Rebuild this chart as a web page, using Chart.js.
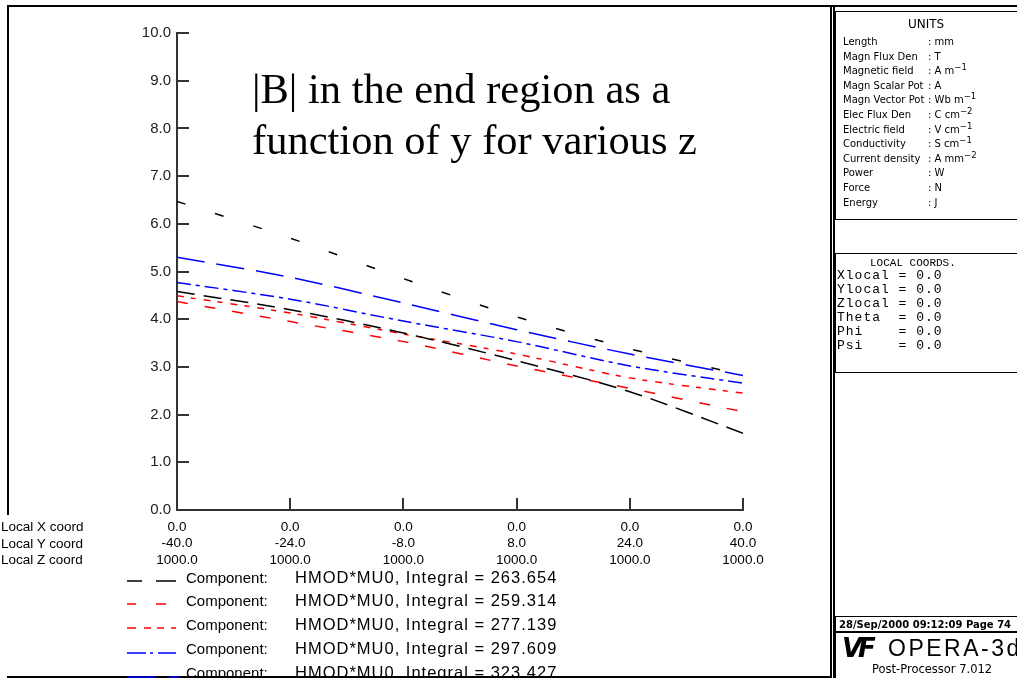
<!DOCTYPE html>
<html>
<head>
<meta charset="utf-8">
<script src="https://cdn.jsdelivr.net/npm/chart.js@4.4.1/dist/chart.umd.min.js"></script>
<style>
	body { margin: 0; background: #fff; }
	#wrap { position: relative; width: 1017px; height: 678px; overflow: hidden; background: #fff; }
	#c { position: absolute; left: 0; top: 0; }
	.t { position: absolute; white-space: pre; line-height: 1; }
	.ln { position: absolute; background: #000; }
	.box { position: absolute; border: 1.5px solid #000; box-sizing: border-box; }
	.title { font-family: "Liberation Serif", serif; font-size: 42.5px; color: #000; }
	.small { font-family: "DejaVu Sans", sans-serif; font-size: 10px; color: #000; }
	.mono { font-family: "Liberation Mono", monospace; font-size: 13px; letter-spacing: 1px; color: #000; }
	.coord { font-family: "Liberation Sans", sans-serif; font-size: 13.5px; color: #000; }
	.leg { font-family: "Liberation Sans", sans-serif; font-size: 15px; color: #000; }
	.leg2 { font-family: "Liberation Sans", sans-serif; font-size: 16.5px; letter-spacing: 1px; color: #000; }
	sup { font-size: 8.5px; vertical-align: baseline; position: relative; top: -4px; line-height: 0; }
</style>
</head>
<body>
<div id="wrap">
	<canvas id="c" width="1017" height="678"></canvas>

	<!-- frame -->
	<div class="ln" style="left:7px;top:5px;width:1010px;height:2px;"></div>
	<div class="ln" style="left:7px;top:5px;width:2px;height:510px;"></div>
	<div class="ln" style="left:830px;top:5px;width:1.5px;height:673px;"></div>
	<div class="ln" style="left:833px;top:5px;width:1.5px;height:673px;"></div>
	<div class="ln" style="left:7px;top:676px;width:825px;height:2px;"></div>

	<div class="t title" style="left:252px;top:68px;">|B| in the end region as a</div>
	<div class="t title" style="left:252px;top:119px;">function of y for various z</div>

	<div class="t coord" style="left:1px;top:520px;">Local X coord</div>
	<div class="t coord" style="left:1px;top:537px;">Local Y coord</div>
	<div class="t coord" style="left:1px;top:553px;">Local Z coord</div>

	<div id="legend"></div>

	<!-- units panel -->
	<div class="box" style="left:835px;top:11px;width:200px;height:209px;"></div>
	<div class="t" style="left:835px;top:18px;width:182px;text-align:center;font-family:'DejaVu Sans',sans-serif;font-size:12px;">UNITS</div>
	<div id="units"></div>

	<div class="box" style="left:835px;top:253px;width:200px;height:120px;"></div>
	<div class="t" style="left:870px;top:258px;font-family:'Liberation Mono',monospace;font-size:11px;">LOCAL COORDS.</div>
	<div id="coords"></div>

	<div class="box" style="left:835px;top:616px;width:200px;height:17px;"></div>
	<div class="t small" style="left:839px;top:620px;font-size:10px;font-weight:bold;">28/Sep/2000 09:12:09 Page 74</div>
	<div class="box" style="left:835px;top:631px;width:200px;height:60px;"></div>
	<div class="t" style="left:842px;top:635px;font-family:'DejaVu Sans',sans-serif;font-weight:bold;font-style:italic;font-size:26px;letter-spacing:-4px;">VF</div>
	<div class="t" style="left:888px;top:637px;font-family:'Liberation Sans',sans-serif;font-size:23px;letter-spacing:2.5px;">OPERA-3d</div>
	<div class="t small" style="left:872px;top:664px;font-size:11.5px;">Post-Processor 7.012</div>
</div>

<script>
var yCoord = [-40, -24, -8, 8, 24, 40];
var localX = [0, 0, 0, 0, 0, 0];
var localZ = [1000, 1000, 1000, 1000, 1000, 1000];

var bBlack = [4.58, 4.20, 3.71, 3.13, 2.48, 1.61];
var bRedDash = [4.37, 3.95, 3.53, 3.02, 2.55, 2.06];
var bRedDot = [4.49, 4.13, 3.69, 3.27, 2.77, 2.45];
var bBlueDot = [4.77, 4.42, 3.96, 3.53, 3.02, 2.66];
var bBlueDash = [5.30, 4.88, 4.34, 3.78, 3.27, 2.82];
var bBlackTop = [6.47, 5.70, 4.85, 4.05, 3.38, 2.83];

var integrals = [263.654, 259.314, 277.139, 297.609, 323.427];

var unitNames = ['Length', 'Magn Flux Den', 'Magnetic field', 'Magn Scalar Pot', 'Magn Vector Pot',
	'Elec Flux Den', 'Electric field', 'Conductivity', 'Current density', 'Power', 'Force', 'Energy'];
var unitValues = ['mm', 'T', 'A m<sup>\u22121</sup>', 'A', 'Wb m<sup>\u22121</sup>', 'C cm<sup>\u22122</sup>',
	'V cm<sup>\u22121</sup>', 'S cm<sup>\u22121</sup>', 'A mm<sup>\u22122</sup>', 'W', 'N', 'J'];
var coordNames = ['Xlocal', 'Ylocal', 'Zlocal', 'Theta', 'Phi', 'Psi'];
var coordValues = [0, 0, 0, 0, 0, 0];

function points(vals) {
	var out = [];
	for (var i = 0; i < vals.length; i++) {
		out.push({x: yCoord[i], y: vals[i]});
	}
	return out;
}

var series = [
	{vals: bBlack, color: '#000000', dash: [18, 9], swatch: '15,14,20,20'},
	{vals: bRedDash, color: '#ff0000', dash: [11, 17], swatch: '9,20,10,20'},
	{vals: bRedDot, color: '#ff0000', dash: [7, 7, 5, 8], swatch: '9,8,7,6,7,7,5,10'},
	{vals: bBlueDot, color: '#0000ff', dash: [14, 5, 4, 5], swatch: '19,4,3,5,18,10'},
	{vals: bBlueDash, color: '#0000ff', dash: [28, 12], swatch: '29,13,11,10'},
	{vals: bBlackTop, color: '#000000', dash: [9, 31], swatch: '9,31'}
];

var datasets = [];
for (var s = 0; s < series.length; s++) {
	datasets.push({
		data: points(series[s].vals),
		borderColor: series[s].color,
		borderWidth: 1.5,
		borderDash: series[s].dash,
		pointRadius: 0,
		tension: 0.3,
		fill: false
	});
}

// inward tick marks like the original plot
var innerTicks = {
	id: 'innerTicks',
	afterDraw: function(chart) {
		var ctx = chart.ctx, xs = chart.scales.x, ys = chart.scales.y;
		var area = chart.chartArea;
		ctx.save();
		ctx.strokeStyle = '#333';
		ctx.lineWidth = 2;
		ctx.beginPath();
		ys.ticks.forEach(function(t) {
			var py = Math.round(ys.getPixelForValue(t.value));
			ctx.moveTo(area.left, py);
			ctx.lineTo(area.left + 12, py);
		});
		xs.ticks.forEach(function(t) {
			var px = Math.round(xs.getPixelForValue(t.value));
			ctx.moveTo(px, area.bottom);
			ctx.lineTo(px, area.bottom - 12);
		});
		ctx.stroke();
		ctx.restore();
	}
};

new Chart(document.getElementById('c'), {
	type: 'line',
	data: {datasets: datasets},
	options: {
		responsive: false,
		animation: false,
		devicePixelRatio: 1,
		layout: {padding: {left: 0, top: 33, right: 274, bottom: 0}},
		plugins: {legend: {display: false}, tooltip: {enabled: false}},
		scales: {
			x: {
				type: 'linear',
				min: -40,
				max: 40,
				afterBuildTicks: function(scale) {
					scale.ticks = yCoord.map(function(v) { return {value: v}; });
				},
				afterFit: function(scale) { scale.height = 168; },
				grid: {display: false, drawTicks: false},
				border: {display: true, color: '#333', width: 2},
				ticks: {
					autoSkip: false,
					maxRotation: 0,
					padding: 9,
					color: '#000',
					font: {family: 'Liberation Sans', size: 13.5, lineHeight: 1.22},
					callback: function(v, i) {
						return [localX[i].toFixed(1), yCoord[i].toFixed(1), localZ[i].toFixed(1)];
					}
				}
			},
			y: {
				min: 0,
				max: 10,
				afterFit: function(scale) { scale.width = 177; },
				grid: {display: false, drawTicks: false},
				border: {display: true, color: '#333', width: 2},
				ticks: {
					stepSize: 1,
					padding: 6,
					color: '#222',
					font: {family: 'Liberation Sans', size: 15},
					callback: function(v) { return v.toFixed(1); }
				}
			}
		}
	},
	plugins: [innerTicks]
});

// legend rows under the plot
var legendRowsY = [570, 593, 617, 641, 665];
var swatchY = [581, 604, 628, 653, 677];
var html = '';
for (var k = 0; k < integrals.length; k++) {
	html += '<svg style="position:absolute;left:127px;top:' + (swatchY[k] - 3) + 'px" width="56" height="6">' +
		'<line x1="0" y1="3" x2="55" y2="3" stroke="' + series[k].color + '" stroke-width="1.5" stroke-dasharray="' +
		series[k].swatch + '"/></svg>';
	html += '<div class="t leg" style="left:186px;top:' + legendRowsY[k] + 'px;">Component:</div>';
	html += '<div class="t leg2" style="left:295px;top:' + (legendRowsY[k] - 1) + 'px;">HMOD*MU0, Integral = ' +
		integrals[k].toFixed(3) + '</div>';
}
document.getElementById('legend').innerHTML = html;

var uh = '';
for (var u = 0; u < unitNames.length; u++) {
	var ty = 37 + u * 14.6;
	uh += '<div class="t small" style="left:843px;top:' + ty + 'px;">' + unitNames[u] + '</div>';
	uh += '<div class="t small" style="left:928px;top:' + ty + 'px;">: ' + unitValues[u] + '</div>';
}
document.getElementById('units').innerHTML = uh;

var ch = '';
for (var c = 0; c < coordNames.length; c++) {
	var cy = 269 + c * 13.9;
	var name = (coordNames[c] + '       ').slice(0, 7);
	ch += '<div class="t mono" style="left:837px;top:' + cy + 'px;">' + name + '= ' + coordValues[c].toFixed(1) + '</div>';
}
document.getElementById('coords').innerHTML = ch;
</script>
</body>
</html>
